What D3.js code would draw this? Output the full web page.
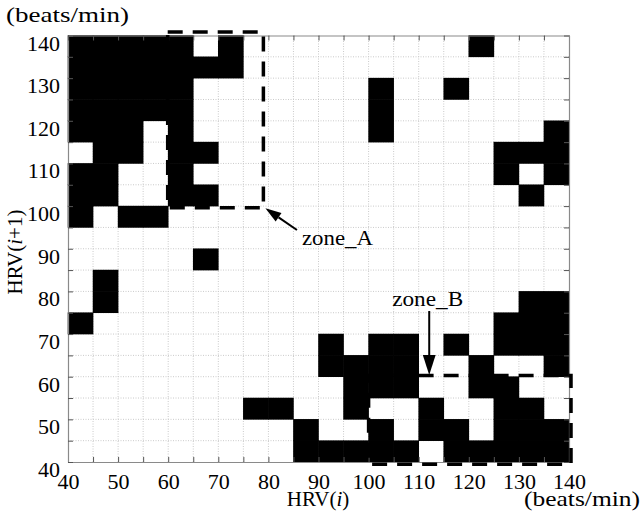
<!DOCTYPE html>
<html>
<head>
<meta charset="utf-8">
<script src="https://cdn.jsdelivr.net/npm/d3@7"></script>
<style>
  body { margin: 0; background: #fff; }
  svg text { font-family: "Liberation Serif", "Times New Roman", serif; fill: #000; }
</style>
</head>
<body>
<svg id="graphe" width="642" height="522"></svg>
<script>
//----------------------------------------------------------------
// Données : carte HRV(i) / HRV(i+1), cases de 5 beats/min
//----------------------------------------------------------------

// début de chaque case en abscisse, HRV(i)
const casesHRVi = [40, 45, 50, 55, 60, 65, 70, 75, 80, 85, 90, 95, 100, 105, 110, 115, 120, 125, 130, 135];
// début de chaque case en ordonnée, HRV(i+1), de haut en bas
const casesHRVi1 = [135, 130, 125, 120, 115, 110, 105, 100, 95, 90, 85, 80, 75, 70, 65, 60, 55, 50, 45, 40];
// une chaîne par ligne (même ordre que casesHRVi1), 1 = case noire
const grille = [
    "11111010000000001000",
    "11111110000000000000",
    "11111000000010010000",
    "11111000000010000000",
    "11101000000010000001",
    "01101100000000000111",
    "11001000000000000101",
    "11001100000000000010",
    "10110000000000000000",
    "00000000000000000000",
    "00000100000000000000",
    "01000000000000000000",
    "01000000000000000011",
    "10000000000000000111",
    "00000000001011010111",
    "00000000001111001001",
    "00000000000111001100",
    "00000001100100100110",
    "00000000010010110111",
    "00000000011111011111"
];
const ticksMineurs = [40, 45, 50, 55, 60, 65, 70, 75, 80, 85, 90, 95, 100, 105, 110, 115, 120, 125, 130, 135, 140];
const ticksLabels = [40, 50, 60, 70, 80, 90, 100, 110, 120, 130, 140];

// zones entourées en pointillés (beats/min)
const zoneA = {x0: 59.9, x1: 79.0, y0: 99.6, y1: 140.8};
const zoneB = {x0: 100.0, x1: 140.4, y0: 39.5, y1: 60.3};

// annotations : texte + flèche (départ -> pointe), en beats/min
const annotations = [
    {texte: "zone_A", tx: 86.7, ty: 90.9, fx0: 85.7, fy0: 94.4, fx1: 79.4, fy1: 99.5, tete: 16},
    {texte: "zone_B", tx: 104.7, ty: 76.6, fx0: 112.1, fy0: 75.4, fx1: 112.1, fy1: 60.4, tete: 20}
];

//----------------------------------------------------------------
// Dessin
//----------------------------------------------------------------
const svg = d3.select("#graphe");

const x = d3.scaleLinear().domain([40, 140]).range([68, 569]);
const y = d3.scaleLinear().domain([40, 140]).range([462, 35.5]);

svg.append("rect")
    .attr("width", 642)
    .attr("height", 522)
    .attr("fill", "#fff");

// grille en pointillés
const grilleG = svg.append("g").attr("class", "grille");
ticksMineurs.slice(1, -1).forEach(function (v) {
    grilleG.append("line")
        .attr("x1", x(v)).attr("x2", x(v))
        .attr("y1", y(40)).attr("y2", y(140))
        .attr("stroke", "#cacaca")
        .attr("stroke-dasharray", "1,1.5");
    grilleG.append("line")
        .attr("x1", x(40)).attr("x2", x(140))
        .attr("y1", y(v)).attr("y2", y(v))
        .attr("stroke", "#cacaca")
        .attr("stroke-dasharray", "1,1.5");
});

// cases noires
const cases = [];
grille.forEach(function (ligne, r) {
    ligne.split("").forEach(function (c, i) {
        if (c === "1") cases.push({hrvI: casesHRVi[i], hrvI1: casesHRVi1[r]});
    });
});
svg.append("g")
    .selectAll("rect")
    .data(cases)
    .join("rect")
    .attr("x", d => x(d.hrvI) - 0.3)
    .attr("y", d => y(d.hrvI1 + 5) - 0.3)
    .attr("width", d => x(d.hrvI + 5) - x(d.hrvI) + 0.6)
    .attr("height", d => y(d.hrvI1) - y(d.hrvI1 + 5) + 0.6)
    .attr("fill", "#000");

// axes (ticks vers l'intérieur)
function styleAxe(g) {
    g.attr("font-family", null).attr("font-size", null);
    g.select(".domain").attr("stroke", "#8a8a8a").attr("stroke-width", 1.2);
    g.selectAll(".tick line").attr("stroke", "#555");
    g.selectAll("text")
        .style("font-size", "22px")
        .attr("fill", "#000");
}
const formatLabel = d => ticksLabels.includes(d) ? d : "";

svg.append("g")
    .attr("transform", "translate(0," + y(40) + ")")
    .call(d3.axisBottom(x).tickValues(ticksMineurs).tickSizeInner(-5).tickSizeOuter(0).tickPadding(11).tickFormat(formatLabel))
    .call(styleAxe);

svg.append("g")
    .attr("transform", "translate(" + x(40) + ",0)")
    .call(d3.axisLeft(y).tickValues(ticksMineurs).tickSizeInner(-5).tickSizeOuter(0).tickPadding(8).tickFormat(formatLabel))
    .call(styleAxe)
    .selectAll("text").attr("dy", "0.66em");

svg.append("g")
    .attr("transform", "translate(0," + y(140) + ")")
    .call(d3.axisTop(x).tickValues(ticksMineurs).tickSizeInner(-5).tickSizeOuter(0).tickFormat(""))
    .call(styleAxe);

svg.append("g")
    .attr("transform", "translate(" + x(140) + ",0)")
    .call(d3.axisRight(y).tickValues(ticksMineurs).tickSizeInner(-5).tickSizeOuter(0).tickFormat(""))
    .call(styleAxe);

// zones en pointillés
[zoneA, zoneB].forEach(function (z) {
    svg.append("rect")
        .attr("x", x(z.x0))
        .attr("y", y(z.y1))
        .attr("width", x(z.x1) - x(z.x0))
        .attr("height", y(z.y0) - y(z.y1))
        .attr("fill", "none")
        .attr("stroke", "#000")
        .attr("stroke-width", 3.5)
        .attr("stroke-dasharray", "15,10");
});

// flèches et textes des zones
annotations.forEach(function (a) {
    const x0 = x(a.fx0), y0 = y(a.fy0), x1 = x(a.fx1), y1 = y(a.fy1);
    const ang = Math.atan2(y1 - y0, x1 - x0);
    const demi = a.tete * 0.32;
    const bx = x1 - a.tete * Math.cos(ang), by = y1 - a.tete * Math.sin(ang);
    svg.append("line")
        .attr("x1", x0).attr("y1", y0)
        .attr("x2", bx).attr("y2", by)
        .attr("stroke", "#000")
        .attr("stroke-width", 2);
    svg.append("path")
        .attr("d", "M" + x1 + "," + y1
            + "L" + (bx - demi * Math.sin(ang)) + "," + (by + demi * Math.cos(ang))
            + "L" + (bx + demi * Math.sin(ang)) + "," + (by - demi * Math.cos(ang)) + "Z")
        .attr("fill", "#000");
    svg.append("text")
        .attr("x", x(a.tx))
        .attr("y", y(a.ty))
        .attr("textLength", 71)
        .attr("lengthAdjust", "spacingAndGlyphs")
        .style("font-size", "21px")
        .text(a.texte);
});

// titres des axes
svg.append("text")
    .attr("x", 6).attr("y", 22)
    .attr("textLength", 123)
    .attr("lengthAdjust", "spacingAndGlyphs")
    .style("font-size", "22px")
    .text("(beats/min)");

svg.append("text")
    .attr("x", 524).attr("y", 506)
    .attr("textLength", 116)
    .attr("lengthAdjust", "spacingAndGlyphs")
    .style("font-size", "21px")
    .text("(beats/min)");

const titreX = svg.append("text")
    .attr("x", 318).attr("y", 506)
    .attr("text-anchor", "middle")
    .style("font-size", "21px");
titreX.append("tspan").text("HRV(");
titreX.append("tspan").attr("font-style", "italic").text("i");
titreX.append("tspan").text(")");

const titreY = svg.append("text")
    .attr("transform", "translate(22,252) rotate(-90)")
    .attr("text-anchor", "middle")
    .style("font-size", "21px");
titreY.append("tspan").text("HRV(");
titreY.append("tspan").attr("font-style", "italic").text("i");
titreY.append("tspan").text("+1)");
</script>
</body>
</html>
